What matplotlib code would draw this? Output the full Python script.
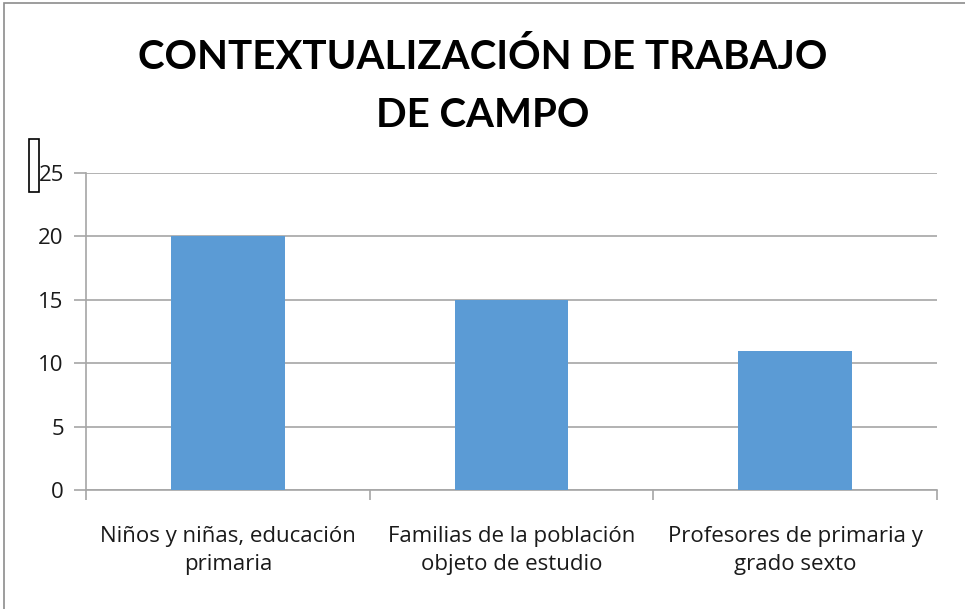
import matplotlib.pyplot as plt
from matplotlib.patches import Rectangle
import numpy as np

categories = ['Niños y niñas, educación\nprimaria',
              'Familias de la población\nobjeto de estudio',
              'Profesores de primaria y\ngrado sexto']
values = [20, 15, 11]
yticks = [0, 5, 10, 15, 20, 25]
title_lines = ['CONTEXTUALIZACIÓN DE TRABAJO', 'DE CAMPO']

W, H = 965, 609
fig = plt.figure(figsize=(W / 100, H / 100), dpi=100)
ax = fig.add_axes([86 / W, 1 - 490 / H, (937 - 86) / W, (490 - 173) / H])

x = np.arange(len(categories))
ax.bar(x, values, width=0.4, color='#5B9BD5', zorder=3)

ax.set_xlim(-0.5, len(categories) - 0.5)
ax.set_ylim(0, 25)
ax.set_yticks(yticks)
ax.set_yticklabels([str(v) for v in yticks], fontsize=16, color='#1a1a1a', family='Open Sans')
ax.grid(axis='y', color='#a6a6a6', linewidth=1.2, zorder=0)
ax.tick_params(axis='y', length=9, width=1.2, color='#a6a6a6', pad=7)

# category boundary ticks on x axis, labels in the middle
ax.set_xticks(np.arange(len(categories) + 1) - 0.5)
ax.set_xticklabels([])
ax.tick_params(axis='x', length=7, width=1.2, color='#a6a6a6')
ax.set_xticks(x, minor=True)
ax.set_xticklabels(categories, minor=True, fontsize=16, color='#1a1a1a',
                   family='Open Sans', linespacing=1.45)
ax.tick_params(axis='x', which='minor', length=0, pad=26)

for side in ['top', 'right']:
    ax.spines[side].set_visible(False)
for side in ['left', 'bottom']:
    ax.spines[side].set_color('#a6a6a6')
    ax.spines[side].set_linewidth(1.2)

for i, line in enumerate(title_lines):
    fig.text(483 / W, 1 - (69 + 58 * i) / H, line, ha='center', va='baseline',
             fontsize=29, fontweight='bold', family='Lato')

# chart frame and stray box at the left
fig.patches.append(Rectangle((4 / W, -0.1), 1.2, 1 - 2.5 / H + 0.1, transform=fig.transFigure,
                             fill=False, edgecolor='#8c8c8c', linewidth=1.2))
fig.patches.append(Rectangle((29 / W, 1 - 192 / H), 10 / W, 53 / H, transform=fig.transFigure,
                             fill=False, edgecolor='black', linewidth=1.2))

fig.savefig('out.png', dpi=100)
